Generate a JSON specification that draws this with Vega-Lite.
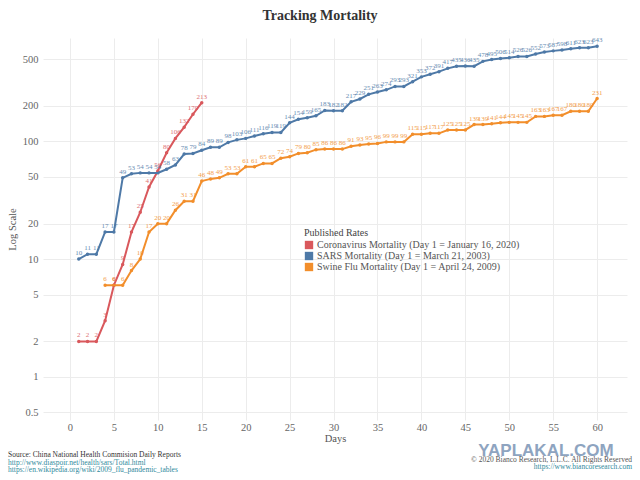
{
  "$schema": "https://vega.github.io/schema/vega-lite/v6.json",
  "description": "Tracking Mortality: cumulative deaths by day, Coronavirus vs SARS vs Swine Flu, log scale.",
  "width": 584,
  "height": 382,
  "autosize": {"type": "none"},
  "padding": {"left": 43, "top": 38, "right": 13, "bottom": 60},
  "background": "white",
  "title": {
    "text": "Tracking Mortality",
    "font": "Liberation Serif", "fontSize": 14, "fontWeight": "bold", "color": "#333333",
    "anchor": "middle", "dx": -15, "offset": 13
  },
  "config": {
    "view": {"stroke": null},
    "axis": {
      "domain": false, "ticks": false, "gridColor": "#ececec",
      "labelFont": "Liberation Serif", "labelFontSize": 10.5, "labelColor": "#666666",
      "titleFont": "Liberation Serif", "titleFontSize": 10.5, "titleFontWeight": "normal", "titleColor": "#555555"
    }
  },
  "datasets": {
    "deaths": [
      {"series": "Coronavirus", "day": 1, "deaths": 2},
      {"series": "Coronavirus", "day": 2, "deaths": 2},
      {"series": "Coronavirus", "day": 3, "deaths": 2},
      {"series": "Coronavirus", "day": 4, "deaths": 3},
      {"series": "Coronavirus", "day": 5, "deaths": 6},
      {"series": "Coronavirus", "day": 6, "deaths": 9},
      {"series": "Coronavirus", "day": 7, "deaths": 17},
      {"series": "Coronavirus", "day": 8, "deaths": 25},
      {"series": "Coronavirus", "day": 9, "deaths": 41},
      {"series": "Coronavirus", "day": 10, "deaths": 56},
      {"series": "Coronavirus", "day": 11, "deaths": 80},
      {"series": "Coronavirus", "day": 12, "deaths": 106},
      {"series": "Coronavirus", "day": 13, "deaths": 132},
      {"series": "Coronavirus", "day": 14, "deaths": 170},
      {"series": "Coronavirus", "day": 15, "deaths": 213},
      {"series": "SARS", "day": 1, "deaths": 10},
      {"series": "SARS", "day": 2, "deaths": 11},
      {"series": "SARS", "day": 3, "deaths": 11},
      {"series": "SARS", "day": 4, "deaths": 17},
      {"series": "SARS", "day": 5, "deaths": 17},
      {"series": "SARS", "day": 6, "deaths": 49},
      {"series": "SARS", "day": 7, "deaths": 53},
      {"series": "SARS", "day": 8, "deaths": 54},
      {"series": "SARS", "day": 9, "deaths": 54},
      {"series": "SARS", "day": 10, "deaths": 54},
      {"series": "SARS", "day": 11, "deaths": 58},
      {"series": "SARS", "day": 12, "deaths": 63},
      {"series": "SARS", "day": 13, "deaths": 78},
      {"series": "SARS", "day": 14, "deaths": 79},
      {"series": "SARS", "day": 15, "deaths": 84},
      {"series": "SARS", "day": 16, "deaths": 89},
      {"series": "SARS", "day": 17, "deaths": 89},
      {"series": "SARS", "day": 18, "deaths": 98},
      {"series": "SARS", "day": 19, "deaths": 103},
      {"series": "SARS", "day": 20, "deaths": 106},
      {"series": "SARS", "day": 21, "deaths": 111},
      {"series": "SARS", "day": 22, "deaths": 116},
      {"series": "SARS", "day": 23, "deaths": 119},
      {"series": "SARS", "day": 24, "deaths": 119},
      {"series": "SARS", "day": 25, "deaths": 144},
      {"series": "SARS", "day": 26, "deaths": 154},
      {"series": "SARS", "day": 27, "deaths": 159},
      {"series": "SARS", "day": 28, "deaths": 165},
      {"series": "SARS", "day": 29, "deaths": 183},
      {"series": "SARS", "day": 30, "deaths": 182},
      {"series": "SARS", "day": 31, "deaths": 182},
      {"series": "SARS", "day": 32, "deaths": 217},
      {"series": "SARS", "day": 33, "deaths": 229},
      {"series": "SARS", "day": 34, "deaths": 251},
      {"series": "SARS", "day": 35, "deaths": 263},
      {"series": "SARS", "day": 36, "deaths": 274},
      {"series": "SARS", "day": 37, "deaths": 293},
      {"series": "SARS", "day": 38, "deaths": 293},
      {"series": "SARS", "day": 39, "deaths": 321},
      {"series": "SARS", "day": 40, "deaths": 353},
      {"series": "SARS", "day": 41, "deaths": 372},
      {"series": "SARS", "day": 42, "deaths": 391},
      {"series": "SARS", "day": 43, "deaths": 417},
      {"series": "SARS", "day": 44, "deaths": 435},
      {"series": "SARS", "day": 45, "deaths": 436},
      {"series": "SARS", "day": 46, "deaths": 435},
      {"series": "SARS", "day": 47, "deaths": 478},
      {"series": "SARS", "day": 48, "deaths": 495},
      {"series": "SARS", "day": 49, "deaths": 506},
      {"series": "SARS", "day": 50, "deaths": 514},
      {"series": "SARS", "day": 51, "deaths": 526},
      {"series": "SARS", "day": 52, "deaths": 526},
      {"series": "SARS", "day": 53, "deaths": 552},
      {"series": "SARS", "day": 54, "deaths": 573},
      {"series": "SARS", "day": 55, "deaths": 587},
      {"series": "SARS", "day": 56, "deaths": 598},
      {"series": "SARS", "day": 57, "deaths": 611},
      {"series": "SARS", "day": 58, "deaths": 623},
      {"series": "SARS", "day": 59, "deaths": 623},
      {"series": "SARS", "day": 60, "deaths": 643},
      {"series": "Swine Flu", "day": 4, "deaths": 6},
      {"series": "Swine Flu", "day": 5, "deaths": 6},
      {"series": "Swine Flu", "day": 6, "deaths": 6},
      {"series": "Swine Flu", "day": 7, "deaths": 8},
      {"series": "Swine Flu", "day": 8, "deaths": 10},
      {"series": "Swine Flu", "day": 9, "deaths": 17},
      {"series": "Swine Flu", "day": 10, "deaths": 20},
      {"series": "Swine Flu", "day": 11, "deaths": 20},
      {"series": "Swine Flu", "day": 12, "deaths": 26},
      {"series": "Swine Flu", "day": 13, "deaths": 31},
      {"series": "Swine Flu", "day": 14, "deaths": 31},
      {"series": "Swine Flu", "day": 15, "deaths": 46},
      {"series": "Swine Flu", "day": 16, "deaths": 48},
      {"series": "Swine Flu", "day": 17, "deaths": 49},
      {"series": "Swine Flu", "day": 18, "deaths": 53},
      {"series": "Swine Flu", "day": 19, "deaths": 53},
      {"series": "Swine Flu", "day": 20, "deaths": 61},
      {"series": "Swine Flu", "day": 21, "deaths": 61},
      {"series": "Swine Flu", "day": 22, "deaths": 65},
      {"series": "Swine Flu", "day": 23, "deaths": 65},
      {"series": "Swine Flu", "day": 24, "deaths": 72},
      {"series": "Swine Flu", "day": 25, "deaths": 74},
      {"series": "Swine Flu", "day": 26, "deaths": 79},
      {"series": "Swine Flu", "day": 27, "deaths": 80},
      {"series": "Swine Flu", "day": 28, "deaths": 85},
      {"series": "Swine Flu", "day": 29, "deaths": 86},
      {"series": "Swine Flu", "day": 30, "deaths": 86},
      {"series": "Swine Flu", "day": 31, "deaths": 86},
      {"series": "Swine Flu", "day": 32, "deaths": 91},
      {"series": "Swine Flu", "day": 33, "deaths": 93},
      {"series": "Swine Flu", "day": 34, "deaths": 95},
      {"series": "Swine Flu", "day": 35, "deaths": 96},
      {"series": "Swine Flu", "day": 36, "deaths": 99},
      {"series": "Swine Flu", "day": 37, "deaths": 99},
      {"series": "Swine Flu", "day": 38, "deaths": 99},
      {"series": "Swine Flu", "day": 39, "deaths": 115},
      {"series": "Swine Flu", "day": 40, "deaths": 115},
      {"series": "Swine Flu", "day": 41, "deaths": 117},
      {"series": "Swine Flu", "day": 42, "deaths": 117},
      {"series": "Swine Flu", "day": 43, "deaths": 125},
      {"series": "Swine Flu", "day": 44, "deaths": 125},
      {"series": "Swine Flu", "day": 45, "deaths": 125},
      {"series": "Swine Flu", "day": 46, "deaths": 139},
      {"series": "Swine Flu", "day": 47, "deaths": 139},
      {"series": "Swine Flu", "day": 48, "deaths": 141},
      {"series": "Swine Flu", "day": 49, "deaths": 144},
      {"series": "Swine Flu", "day": 50, "deaths": 145},
      {"series": "Swine Flu", "day": 51, "deaths": 145},
      {"series": "Swine Flu", "day": 52, "deaths": 145},
      {"series": "Swine Flu", "day": 53, "deaths": 163},
      {"series": "Swine Flu", "day": 54, "deaths": 163},
      {"series": "Swine Flu", "day": 55, "deaths": 167},
      {"series": "Swine Flu", "day": 56, "deaths": 167},
      {"series": "Swine Flu", "day": 57, "deaths": 180},
      {"series": "Swine Flu", "day": 58, "deaths": 180},
      {"series": "Swine Flu", "day": 59, "deaths": 180},
      {"series": "Swine Flu", "day": 60, "deaths": 231}
    ]
  },
  "layer": [
    {
      "data": {"name": "deaths"},
      "encoding": {
        "x": {
          "field": "day", "type": "quantitative", "title": "Days",
          "scale": {"domain": [-3.07, 63.4], "nice": false, "zero": false},
          "axis": {"values": [0, 5, 10, 15, 20, 25, 30, 35, 40, 45, 50, 55, 60], "labelPadding": 2, "titlePadding": 1}
        },
        "y": {
          "field": "deaths", "type": "quantitative", "title": "Log Scale",
          "scale": {"type": "log", "domain": [0.43, 755], "nice": false},
          "axis": {"values": [0.5, 1, 2, 5, 10, 20, 50, 100, 200, 500], "format": "~g", "labelPadding": 5, "titlePadding": 5}
        }
      },
      "layer": [
        {
          "mark": {"type": "point", "filled": true, "size": 12, "opacity": 1},
          "encoding": {
            "color": {
              "field": "series", "type": "nominal",
              "scale": {"domain": ["Coronavirus", "SARS", "Swine Flu"], "range": ["#d9585c", "#4e79a7", "#f28e2b"]},
              "legend": {
                "title": "Published Rates", "orient": "none", "legendX": 261, "legendY": 190,
                "symbolType": "square", "symbolSize": 70, "symbolStrokeWidth": 0,
                "titleFont": "Liberation Serif", "titleFontSize": 10, "titleFontWeight": "normal", "titleColor": "#444444", "titlePadding": 2,
                "labelFont": "Liberation Serif", "labelFontSize": 10, "labelColor": "#555555", "labelLimit": 0, "rowPadding": 1, "labelOffset": 3,
                "labelExpr": "datum.label == 'Coronavirus' ? 'Coronavirus Mortality (Day 1 = January 16, 2020)' : datum.label == 'SARS' ? 'SARS Mortality  (Day 1 = March 21, 2003)' : 'Swine Flu Mortality  (Day 1 = April 24, 2009)'"
              }
            }
          }
        },
        {
          "mark": {"type": "line", "strokeWidth": 2},
          "encoding": {
            "color": {"field": "series", "type": "nominal", "legend": null}
          }
        },
        {
          "mark": {"type": "text", "dy": -6, "font": "Liberation Serif", "fontSize": 7, "opacity": 0.85},
          "encoding": {
            "text": {"field": "deaths", "type": "quantitative"},
            "color": {"field": "series", "type": "nominal", "legend": null}
          }
        }
      ]
    },
    {
      "data": {"values": [{"note": "Source: China National Health Commision Daily Reports"}]},
      "mark": {"type": "text", "align": "left", "baseline": "middle", "font": "Liberation Serif", "fontSize": 7.5, "color": "#333333"},
      "encoding": {"x": {"datum": -7.05}, "y": {"datum": 0.216}, "text": {"field": "note"}}
    },
    {
      "data": {"values": [{"note": "http://www.diaspoir.net/health/sars/Total.html"}]},
      "mark": {"type": "text", "align": "left", "baseline": "middle", "font": "Liberation Serif", "fontSize": 7.5, "color": "#2f8a9c"},
      "encoding": {"x": {"datum": -7.05}, "y": {"datum": 0.185}, "text": {"field": "note"}}
    },
    {
      "data": {"values": [{"note": "https://en.wikipedia.org/wiki/2009_flu_pandemic_tables"}]},
      "mark": {"type": "text", "align": "left", "baseline": "middle", "font": "Liberation Serif", "fontSize": 7.5, "color": "#2f8a9c"},
      "encoding": {"x": {"datum": -7.05}, "y": {"datum": 0.1614}, "text": {"field": "note"}}
    },
    {
      "data": {"values": [{"note": "YAPLAKAL.COM"}]},
      "mark": {"type": "text", "align": "center", "baseline": "middle", "font": "Liberation Sans", "fontSize": 17, "fontWeight": "bold", "color": "#8ea4c0"},
      "encoding": {"x": {"datum": 54.18}, "y": {"datum": 0.234}, "text": {"field": "note"}}
    },
    {
      "data": {"values": [{"note": "© 2020 Bianco Research, L.L.C. All Rights Reserved"}]},
      "mark": {"type": "text", "align": "right", "baseline": "middle", "font": "Liberation Serif", "fontSize": 7.5, "color": "#555555"},
      "encoding": {"x": {"datum": 63.97}, "y": {"datum": 0.196}, "text": {"field": "note"}}
    },
    {
      "data": {"values": [{"note": "https://www.biancoresearch.com"}]},
      "mark": {"type": "text", "align": "right", "baseline": "middle", "font": "Liberation Serif", "fontSize": 7.5, "color": "#2f8a9c"},
      "encoding": {"x": {"datum": 63.97}, "y": {"datum": 0.171}, "text": {"field": "note"}}
    }
  ]
}
